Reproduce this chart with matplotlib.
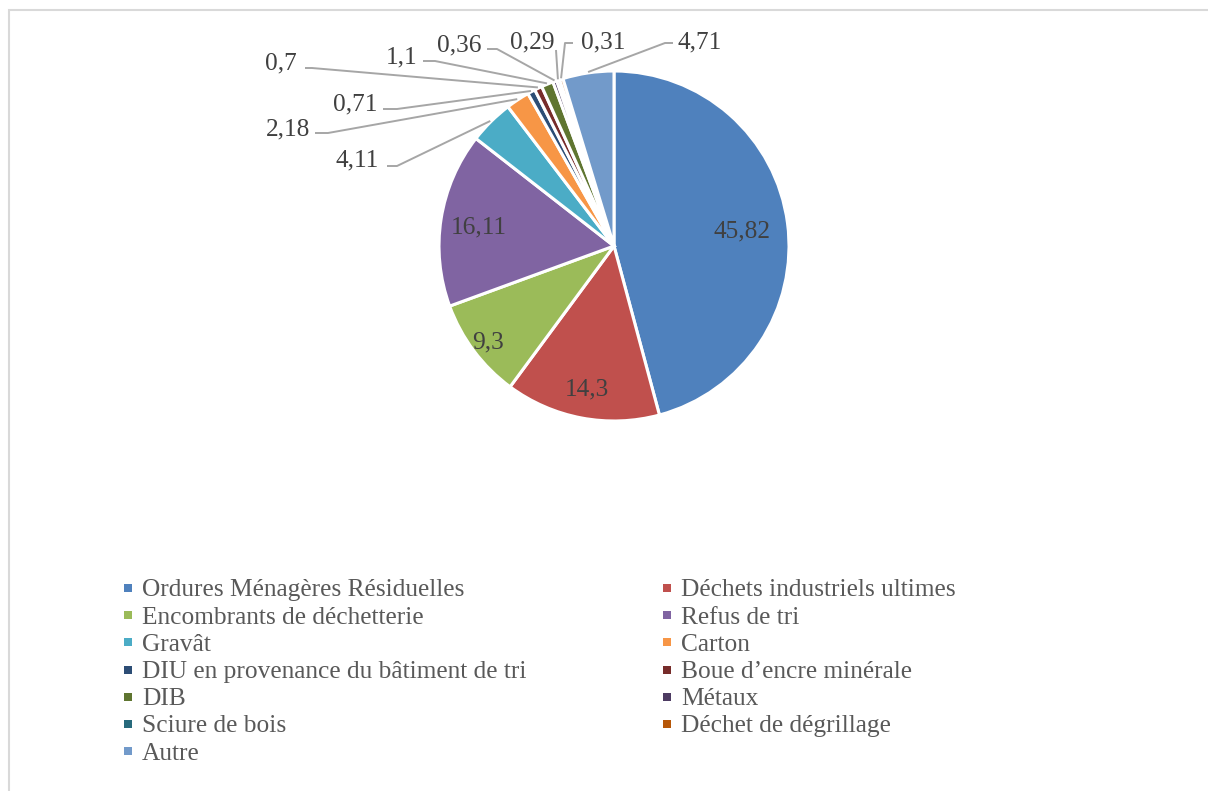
import matplotlib
matplotlib.use("Agg")
import matplotlib.pyplot as plt
from matplotlib.patches import Rectangle
import numpy as np

categories = [
    "Ordures Ménagères Résiduelles", "Déchets industriels ultimes",
    "Encombrants de déchetterie", "Refus de tri", "Gravât", "Carton",
    "DIU en provenance du bâtiment de tri", "Boue d\u2019encre minérale",
    "DIB", "Métaux", "Sciure de bois", "Déchet de dégrillage", "Autre",
]
values = [45.82, 14.3, 9.3, 16.11, 4.11, 2.18, 0.71, 0.7, 1.1, 0.36, 0.29, 0.31, 4.71]
value_labels = ["45,82", "14,3", "9,3", "16,11", "4,11", "2,18", "0,71", "0,7",
                "1,1", "0,36", "0,29", "0,31", "4,71"]
colors = ["#4F81BD", "#C0504D", "#9BBB59", "#8064A2", "#4BACC6", "#F79646",
          "#2C4D75", "#772C2A", "#5F7530", "#4D3B62", "#276A7C", "#B65708", "#729ACA"]

W, H = 1208, 791
fig = plt.figure(figsize=(W / 100, H / 100), dpi=100)
ax = fig.add_axes([0, 0, 1, 1])
FONT = "Liberation Serif"
FS = 18.3
CAP_HALF = 0.331 * FS * 100 / 72   # half cap height in pixels
TXT = "#404040"

cx, cy, R = 614, H - 246, 175
wedges, _ = ax.pie(values, colors=colors, startangle=90, counterclock=False,
                   center=(cx, cy), radius=R,
                   wedgeprops=dict(edgecolor="white", linewidth=2.2))
ax.set_xlim(0, W)
ax.set_ylim(0, H)
ax.set_aspect("auto")
ax.axis("off")


def label(x, y, s, **kw):
    ax.text(x, y - CAP_HALF, s, va="baseline", fontsize=FS, family=FONT, **kw)


# inside labels: index -> radius fraction
inside = {0: 0.74, 1: 0.82, 2: 0.90, 3: 0.78}
# outside labels: index -> (text centre, line start, elbow) in pixels (top-left origin)
outside = {
    4: ((357, 158), (387, 166), (397, 166)),
    5: ((288, 127), (315, 133), (328, 133)),
    6: ((355, 102), (383, 109), (397, 109)),
    7: ((281, 61), (305, 68), (312, 68)),
    8: ((402, 55), (423, 61), (435, 61)),
    9: ((459, 43), (487, 49), (497, 49)),
    10: ((532, 40), (556, 50), (556, 50)),
    11: ((603, 40), (573, 43), (565, 43)),
    12: ((700, 40), (673, 43), (665, 43)),
}

for i, w in enumerate(wedges):
    ang = np.deg2rad((w.theta1 + w.theta2) / 2)
    if i in inside:
        d = inside[i] * R
        label(cx + d * np.cos(ang), cy + d * np.sin(ang), value_labels[i],
              ha="center", color=TXT)
    else:
        (tx, ty), (sx, sy), (ex, ey) = outside[i]
        axp, ayp = cx + 1.005 * R * np.cos(ang), cy + 1.005 * R * np.sin(ang)
        ax.plot([sx, ex, axp], [H - sy, H - ey, ayp], color="#A6A6A6", lw=1.4,
                solid_capstyle="butt", zorder=1)
        label(tx, H - ty, value_labels[i], ha="center", color=TXT)

# legend
col_x = [128, 667]
row_y0, row_dy = 588, 27.2
for i, (name, c) in enumerate(zip(categories, colors)):
    col, row = i % 2, i // 2
    x, y = col_x[col], H - (row_y0 + row * row_dy)
    ax.add_patch(Rectangle((x - 4, y - 4), 8, 8, facecolor=c, edgecolor="none"))
    label(x + 14, y, name, ha="left", color="#595959")

# chart border
fig.patches.append(Rectangle((9 / W, -0.1), 2, (H - 10) / H + 0.1,
                             transform=fig.transFigure, fill=False,
                             edgecolor="#D9D9D9", lw=1.5))

fig.savefig("out.png", dpi=100, facecolor="white")
